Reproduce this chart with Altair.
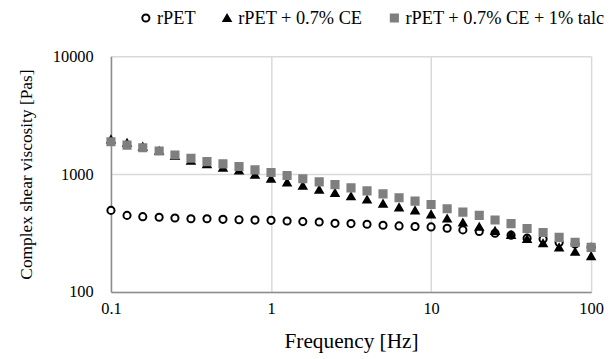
import altair as alt
import pandas as pd

freq = [0.1, 0.126, 0.158, 0.2, 0.251, 0.316, 0.398, 0.501, 0.631, 0.794,
        1, 1.26, 1.58, 2, 2.51, 3.16, 3.98, 5.01, 6.31, 7.94,
        10, 12.6, 15.8, 20, 25.1, 31.6, 39.8, 50.1, 63.1, 79.4, 100]

rpet = [492, 446, 435, 430, 424, 418, 418, 413, 410, 407,
        405, 400, 395, 392, 382, 380, 375, 368, 363, 359,
        356, 347, 336, 326, 315, 303, 286, 281, 263, 255, 239]

rpet_ce = [1968, 1845, 1708, 1579, 1426, 1301, 1213, 1136, 1072, 987,
           914, 850, 797, 738, 692, 648, 608, 562, 521, 492,
           455, 420, 388, 357, 330, 305, 281, 259, 239, 219, 201]

rpet_ce_talc = [1879, 1762, 1674, 1571, 1453, 1362, 1275, 1221, 1159, 1087,
                1031, 973, 913, 858, 814, 763, 720, 679, 629, 589,
                552, 508, 476, 446, 408, 380, 345, 319, 290, 263, 239]

series = ["rPET", "rPET + 0.7% CE", "rPET + 0.7% CE + 1% talc"]
x_ticks = [0.1, 1, 10, 100]
y_ticks = [100, 1000, 10000]

rows = []
for name, vals in zip(series, [rpet, rpet_ce, rpet_ce_talc]):
    for f, v in zip(freq, vals):
        rows.append({"freq": f, "visc": v, "series": name})
df = pd.DataFrame(rows)

FONT = "Liberation Serif"

chart = alt.Chart(df).mark_point(strokeWidth=2, opacity=1, size=52).encode(
    x=alt.X("freq:Q",
            scale=alt.Scale(type="log", domain=[0.1, 100], nice=False),
            axis=alt.Axis(values=x_ticks, format="~g", title="Frequency [Hz]",
                          labelPadding=9, titlePadding=14, labelFontSize=16.5,
                          titleFontSize=21.5)),
    y=alt.Y("visc:Q",
            scale=alt.Scale(type="log", domain=[100, 10000], nice=False),
            axis=alt.Axis(values=y_ticks, format="~g", title="Complex shear viscosity [Pas]",
                          labelPadding=18, titlePadding=17, labelFontSize=16.5,
                          titleFontSize=17.5)),
    shape=alt.Shape("series:N", scale=alt.Scale(domain=series,
                    range=["circle", "triangle-up", "square"]),
                    legend=alt.Legend(title=None)),
    fill=alt.Fill("series:N", scale=alt.Scale(domain=series,
                  range=["#ffffff", "#000000", "#7f7f7f"]),
                  legend=alt.Legend(title=None)),
    stroke=alt.Stroke("series:N", scale=alt.Scale(domain=series,
                      range=["#000000", "#000000", "#7f7f7f"]),
                      legend=alt.Legend(title=None)),
    order=alt.Order("series:N"),
).properties(
    width=485, height=238,
    autosize=alt.AutoSizeParams(type="none"),
    padding={"left": 104, "top": 47, "right": 13, "bottom": 64},
).configure_view(
    stroke=None
).configure_axis(
    labelFont=FONT, titleFont=FONT, labelColor="#000000", titleColor="#000000",
    titleFontWeight="normal", ticks=False, domainColor="#8c8c8c", domainWidth=1.5,
    gridColor="#d9d9d9", gridWidth=1.5, labelFlush=False,
).configure_legend(
    orient="none", legendX=26, legendY=-48, direction="horizontal",
    labelFont=FONT, labelFontSize=18.5, labelColor="#000000",
    symbolSize=52, symbolStrokeWidth=2, labelOffset=2, columnPadding=22,
    labelLimit=400,
)

chart.save("out.html", embed_options={"renderer": "svg", "actions": False})
